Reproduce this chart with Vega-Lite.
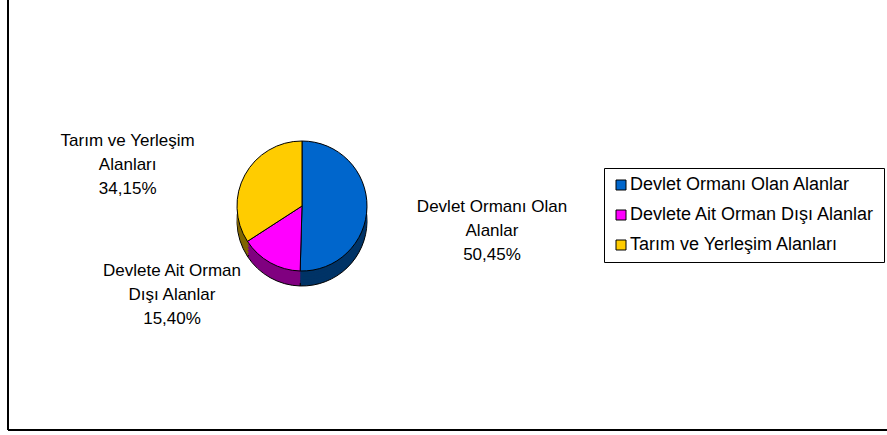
{
  "$schema": "https://vega.github.io/schema/vega-lite/v6.json",
  "width": 890,
  "height": 440,
  "autosize": "none",
  "padding": {"left": 8, "top": -10, "right": -11, "bottom": 5},
  "background": "white",
  "config": {
    "view": {"stroke": null},
    "font": "Liberation Sans",
    "text": {"font": "Liberation Sans"}
  },
  "data": {
    "values": [
      {"category": "Devlet Ormanı Olan Alanlar", "value": 50.45, "labelLines": ["Devlet Ormanı Olan", "Alanlar"]},
      {"category": "Devlete Ait Orman Dışı Alanlar", "value": 15.40, "labelLines": ["Devlete Ait Orman", "Dışı Alanlar"]},
      {"category": "Tarım ve Yerleşim Alanları", "value": 34.15, "labelLines": ["Tarım ve Yerleşim", "Alanları"]}
    ]
  },
  "transform": [
    {"window": [{"op": "row_number", "as": "idx"}]},
    {"stack": "value", "groupby": [], "sort": [{"field": "idx", "order": "ascending"}], "as": ["v0", "v1"]},
    {"calculate": "(datum.v0 + datum.v1) / 2", "as": "mid"},
    {"calculate": "[datum.labelLines[0], datum.labelLines[1], replace(format(datum.value, '.2f'), '.', ',') + '%']", "as": "label"}
  ],
  "resolve": {"scale": {"fill": "independent"}, "legend": {"fill": "independent"}},
  "layer": [
    {
      "mark": {"type": "rule", "stroke": "black", "strokeWidth": 2},
      "encoding": {"x": {"datum": 0, "type": "quantitative", "scale": {"domain": [0, 1]}, "axis": null}}
    },
    {
      "mark": {"type": "rule", "stroke": "black", "strokeWidth": 2},
      "encoding": {"y": {"datum": 0, "type": "quantitative", "scale": {"domain": [0, 1]}, "axis": null}}
    },
    {
      "mark": {"type": "arc", "outerRadius": 65, "x": 294, "y": 231, "stroke": "black", "strokeWidth": 1},
      "encoding": {
        "theta": {"field": "v0", "type": "quantitative", "scale": {"domain": [0, 100]}},
        "theta2": {"field": "v1"},
        "fill": {"field": "category", "type": "nominal", "scale": {"domain": ["Devlet Ormanı Olan Alanlar", "Devlete Ait Orman Dışı Alanlar", "Tarım ve Yerleşim Alanları"], "range": ["#003366", "#800080", "#806600"]}, "legend": null}
      }
    },
    {
      "mark": {"type": "arc", "outerRadius": 65, "x": 294, "y": 228},
      "encoding": {
        "theta": {"field": "v0", "type": "quantitative", "scale": {"domain": [0, 100]}},
        "theta2": {"field": "v1"},
        "fill": {"field": "category", "type": "nominal", "scale": {"domain": ["Devlet Ormanı Olan Alanlar", "Devlete Ait Orman Dışı Alanlar", "Tarım ve Yerleşim Alanları"], "range": ["#003366", "#800080", "#806600"]}, "legend": null}
      }
    },
    {
      "mark": {"type": "arc", "outerRadius": 65, "x": 294, "y": 225},
      "encoding": {
        "theta": {"field": "v0", "type": "quantitative", "scale": {"domain": [0, 100]}},
        "theta2": {"field": "v1"},
        "fill": {"field": "category", "type": "nominal", "scale": {"domain": ["Devlet Ormanı Olan Alanlar", "Devlete Ait Orman Dışı Alanlar", "Tarım ve Yerleşim Alanları"], "range": ["#003366", "#800080", "#806600"]}, "legend": null}
      }
    },
    {
      "mark": {"type": "arc", "outerRadius": 65, "x": 294, "y": 222},
      "encoding": {
        "theta": {"field": "v0", "type": "quantitative", "scale": {"domain": [0, 100]}},
        "theta2": {"field": "v1"},
        "fill": {"field": "category", "type": "nominal", "scale": {"domain": ["Devlet Ormanı Olan Alanlar", "Devlete Ait Orman Dışı Alanlar", "Tarım ve Yerleşim Alanları"], "range": ["#003366", "#800080", "#806600"]}, "legend": null}
      }
    },
    {
      "mark": {"type": "arc", "outerRadius": 65, "x": 294, "y": 219},
      "encoding": {
        "theta": {"field": "v0", "type": "quantitative", "scale": {"domain": [0, 100]}},
        "theta2": {"field": "v1"},
        "fill": {"field": "category", "type": "nominal", "scale": {"domain": ["Devlet Ormanı Olan Alanlar", "Devlete Ait Orman Dışı Alanlar", "Tarım ve Yerleşim Alanları"], "range": ["#003366", "#800080", "#806600"]}, "legend": null}
      }
    },
    {
      "mark": {"type": "arc", "outerRadius": 65, "x": 294, "y": 216, "stroke": "black", "strokeWidth": 1},
      "encoding": {
        "theta": {"field": "v0", "type": "quantitative", "scale": {"domain": [0, 100]}},
        "theta2": {"field": "v1"},
        "fill": {
          "field": "category",
          "type": "nominal",
          "scale": {"domain": ["Devlet Ormanı Olan Alanlar", "Devlete Ait Orman Dışı Alanlar", "Tarım ve Yerleşim Alanları"], "range": ["#0066CC", "#FF00FF", "#FFCC00"]},
          "legend": {
            "title": null,
            "orient": "none",
            "legendX": 596,
            "legendY": 178,
            "strokeColor": "black",
            "fillColor": "white",
            "padding": 8,
            "rowPadding": 12,
            "symbolType": "square",
            "symbolSize": 100,
            "symbolStrokeColor": "black",
            "symbolStrokeWidth": 1,
            "labelFont": "Liberation Sans",
            "labelFontSize": 18,
            "labelColor": "black",
            "labelLimit": 500,
            "labelOffset": 0
          }
        }
      }
    },
    {
      "transform": [{"filter": "datum.idx == 1"}],
      "mark": {"type": "text", "radius": 190, "x": 294, "y": 216, "dy": -2, "fontSize": 17, "lineHeight": 24, "align": "center", "baseline": "middle", "color": "black"},
      "encoding": {
        "theta": {"field": "mid", "type": "quantitative", "scale": {"domain": [0, 100]}},
        "text": {"field": "label"}
      }
    },
    {
      "transform": [{"filter": "datum.idx == 2"}],
      "mark": {"type": "text", "radius": 100, "x": 294, "y": 216, "dx": -81, "dy": -22, "fontSize": 17, "lineHeight": 24, "align": "center", "baseline": "middle", "color": "black"},
      "encoding": {
        "theta": {"field": "mid", "type": "quantitative", "scale": {"domain": [0, 100]}},
        "text": {"field": "label"}
      }
    },
    {
      "transform": [{"filter": "datum.idx == 3"}],
      "mark": {"type": "text", "radius": 195, "x": 294, "y": 216, "dx": -3, "dy": 28, "fontSize": 17, "lineHeight": 24, "align": "center", "baseline": "middle", "color": "black"},
      "encoding": {
        "theta": {"field": "mid", "type": "quantitative", "scale": {"domain": [0, 100]}},
        "text": {"field": "label"}
      }
    }
  ]
}
